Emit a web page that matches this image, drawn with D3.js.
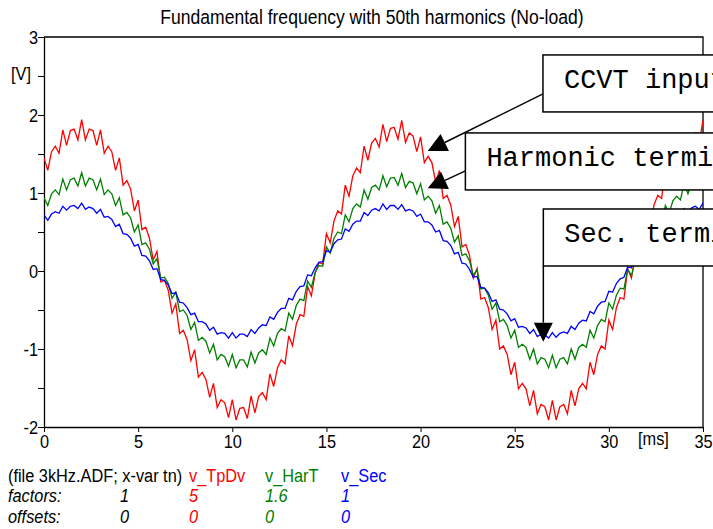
<!DOCTYPE html>
<html><head><meta charset="utf-8">
<script src="https://cdn.jsdelivr.net/npm/d3@7"></script>
<style>html,body{margin:0;padding:0;background:#fff;} svg{display:block}</style>
</head><body>
<svg id="chart" width="713" height="529"></svg>
<script>
const title = "Fundamental frequency with 50th harmonics (No-load)";
const sampleStepMs = 0.2;
const vTpDv = [1.45,1.29,1.53,1.60,1.51,1.81,1.61,1.80,1.82,1.68,
1.94,1.68,1.82,1.80,1.61,1.81,1.51,1.60,1.53,1.29,
1.45,1.10,1.16,1.05,0.77,0.91,0.53,0.56,0.42,0.14,
0.25,-0.14,-0.12,-0.25,-0.54,-0.42,-0.80,-0.76,-0.88,-1.15,
-1.01,-1.36,-1.30,-1.39,-1.62,-1.44,-1.75,-1.65,-1.69,-1.88,
-1.65,-1.91,-1.76,-1.75,-1.89,-1.60,-1.82,-1.61,-1.56,-1.65,
-1.32,-1.48,-1.24,-1.14,-1.19,-0.83,-0.96,-0.68,-0.56,-0.58,
-0.20,-0.32,-0.03,0.11,0.09,0.48,0.36,0.64,0.77,0.73,
1.10,0.96,1.22,1.32,1.26,1.60,1.42,1.64,1.70,1.59,
1.88,1.66,1.83,1.84,1.69,1.93,1.65,1.77,1.73,1.53,
1.72,1.39,1.47,1.39,1.14,1.29,0.93,0.97,0.85,0.57,
0.70,0.31,0.34,0.20,-0.09,0.03,-0.36,-0.34,-0.47,-0.75,
-0.63,-1.00,-0.96,-1.07,-1.33,-1.17,-1.51,-1.44,-1.51,-1.73,
-1.53,-1.83,-1.71,-1.74,-1.91,-1.66,-1.91,-1.74,-1.71,-1.83,
-1.53,-1.73,-1.51,-1.44,-1.51,-1.17,-1.33,-1.07,-0.96,-1.00,
-0.63,-0.75,-0.47,-0.34,-0.36,0.03,-0.09,0.20,0.34,0.31,
0.70,0.57,0.85,0.97,0.93,1.29,1.14,1.39,1.47,1.39,
1.72,1.53,1.73,1.77,1.65,1.93];
const vHarT = [0.94,0.84,0.99,1.04,0.98,1.18,1.04,1.17,1.19,1.09,
1.26,1.09,1.19,1.17,1.04,1.18,0.98,1.04,0.99,0.84,
0.94,0.72,0.75,0.68,0.50,0.59,0.34,0.36,0.28,0.09,
0.16,-0.09,-0.08,-0.16,-0.35,-0.27,-0.52,-0.50,-0.57,-0.75,
-0.66,-0.89,-0.85,-0.90,-1.05,-0.94,-1.14,-1.07,-1.10,-1.22,
-1.07,-1.24,-1.14,-1.14,-1.23,-1.04,-1.18,-1.05,-1.01,-1.07,
-0.86,-0.96,-0.80,-0.74,-0.77,-0.54,-0.62,-0.44,-0.36,-0.38,
-0.13,-0.21,-0.02,0.07,0.06,0.31,0.23,0.42,0.50,0.48,
0.72,0.63,0.80,0.86,0.82,1.04,0.92,1.07,1.10,1.04,
1.22,1.08,1.19,1.20,1.10,1.25,1.07,1.15,1.13,0.99,
1.12,0.91,0.96,0.90,0.74,0.84,0.60,0.63,0.55,0.37,
0.45,0.20,0.22,0.13,-0.06,0.02,-0.23,-0.22,-0.31,-0.49,
-0.41,-0.65,-0.62,-0.70,-0.86,-0.76,-0.98,-0.94,-0.98,-1.13,
-1.00,-1.19,-1.11,-1.13,-1.24,-1.08,-1.24,-1.13,-1.11,-1.19,
-1.00,-1.13,-0.98,-0.94,-0.98,-0.76,-0.86,-0.70,-0.62,-0.65,
-0.41,-0.49,-0.31,-0.22,-0.23,0.02,-0.06,0.13,0.22,0.20,
0.45,0.37,0.55,0.63,0.60,0.84,0.74,0.90,0.96,0.91,
1.12,0.99,1.13,1.15,1.07,1.25];
const vSec = [0.72,0.65,0.73,0.76,0.74,0.83,0.78,0.83,0.84,0.80,
0.87,0.79,0.82,0.80,0.74,0.79,0.69,0.70,0.66,0.57,
0.60,0.48,0.47,0.42,0.32,0.34,0.20,0.19,0.13,0.02,
0.03,-0.11,-0.12,-0.18,-0.29,-0.28,-0.40,-0.41,-0.47,-0.56,
-0.54,-0.65,-0.65,-0.68,-0.76,-0.72,-0.81,-0.79,-0.80,-0.86,
-0.79,-0.86,-0.81,-0.81,-0.84,-0.75,-0.80,-0.73,-0.69,-0.70,
-0.59,-0.62,-0.53,-0.48,-0.48,-0.35,-0.37,-0.26,-0.20,-0.19,
-0.05,-0.06,0.04,0.11,0.12,0.26,0.24,0.35,0.40,0.41,
0.54,0.51,0.60,0.64,0.64,0.75,0.71,0.78,0.80,0.77,
0.86,0.79,0.84,0.84,0.79,0.85,0.77,0.79,0.77,0.70,
0.73,0.63,0.63,0.59,0.50,0.52,0.39,0.38,0.33,0.22,
0.24,0.10,0.09,0.02,-0.08,-0.07,-0.21,-0.22,-0.28,-0.39,
-0.37,-0.49,-0.50,-0.55,-0.64,-0.61,-0.72,-0.71,-0.73,-0.80,
-0.75,-0.84,-0.81,-0.82,-0.86,-0.79,-0.85,-0.80,-0.78,-0.80,
-0.71,-0.75,-0.67,-0.63,-0.64,-0.52,-0.55,-0.45,-0.40,-0.39,
-0.26,-0.27,-0.16,-0.10,-0.08,0.05,0.04,0.15,0.21,0.22,
0.36,0.34,0.44,0.49,0.50,0.62,0.59,0.67,0.71,0.70,
0.80,0.75,0.81,0.83,0.79,0.87];
const xTicks = [0,5,10,15,20,25,30,35];
const yTicks = [-2,-1,0,1,2,3];
const yMinorTicks = [-1.5,-0.5,0.5,1.5,2.5];
const xUnit = "[ms]";
const yUnit = "[V]";
const fileLabel = "(file 3kHz.ADF; x-var tn)";
const seriesNames = ["v_TpDv","v_HarT","v_Sec"];
const seriesColors = ["#ff0000","#008000","#0000ff"];
const factorLabels = ["1","5","1.6","1"];
const offsetLabels = ["0","0","0","0"];
const annotationTexts = ["CCVT input","Harmonic terminal","Sec. terminal"];

(function(){
const svg = d3.select("#chart");
const W = 713, H = 529;
const pL = 44, pR = 703, pT = 37, pB = 427;
const x = d3.scaleLinear().domain([0,35]).range([pL,pR]);
const y = d3.scaleLinear().domain([-2,3]).range([pB,pT]);
const sans = "'Liberation Sans', Arial, sans-serif";
const mono = "'Liberation Mono', 'Courier New', monospace";
const fs = 19, sx = 0.86;

function sText(px, py, str, o={}){
  return svg.append("text")
    .attr("transform",`translate(${px},${py}) scale(${o.sx||sx},1)`)
    .attr("font-family",sans).attr("font-size",o.size||fs)
    .attr("font-style",o.italic?"italic":"normal")
    .attr("text-anchor",o.anchor||"start")
    .attr("fill",o.color||"#000").text(str);
}

svg.append("rect").attr("width",W).attr("height",H).attr("fill","#fff");

sText(372, 24, title, {size:19.5, anchor:"middle", sx:0.9});

svg.append("path").attr("d",`M${pL},${pT}H${pR}V${pB}`).attr("fill","none").attr("stroke","#000").attr("stroke-width",1.3);

const yAxis = d3.axisLeft(y).tickValues(yTicks).tickSize(6).tickSizeOuter(0).tickPadding(1).tickFormat(d=>String(d));
const gy = svg.append("g").attr("transform",`translate(${pL},0)`).call(yAxis);
const gy2 = svg.append("g").attr("transform",`translate(${pL},0)`).call(d3.axisLeft(y).tickValues(yMinorTicks).tickSize(6).tickSizeOuter(0).tickFormat(""));
gy2.select(".domain").remove();
const xAxis = d3.axisBottom(x).tickValues(xTicks).tickSize(5).tickSizeOuter(0).tickPadding(3).tickFormat(d=>String(d));
const gx = svg.append("g").attr("transform",`translate(0,${pB})`).call(xAxis);
[gy,gy2,gx].forEach(g=>{
  g.selectAll("text").attr("font-family",sans).attr("font-size",fs).attr("fill","#000")
    .attr("transform",`scale(${sx},1)`);
  g.selectAll("line").attr("stroke","#000");
  g.select(".domain").attr("stroke","#000").attr("stroke-width",1.3);
});

sText(638, 445, xUnit);
sText(11, 80, yUnit);

const series = [vTpDv, vHarT, vSec];
const line = d3.line().x((d,i)=>x(i*sampleStepMs)).y(d=>y(d));
svg.append("clipPath").attr("id","pc").append("rect").attr("x",pL).attr("y",pT).attr("width",pR-pL).attr("height",pB-pT);
series.forEach((s,i)=>{
  svg.append("path").datum(s).attr("d",line).attr("fill","none")
    .attr("stroke",seriesColors[i]).attr("stroke-width",1.3)
    .attr("clip-path","url(#pc)");
});

const boxes = [
  {t:annotationTexts[0], bx:26.5, by:2.77, sdy:39, tip:[20.38,1.54]},
  {t:annotationTexts[1], bx:22.38, by:1.77, sdy:38, tip:[20.38,1.06]},
  {t:annotationTexts[2], bx:26.52, by:0.795, sdy:57, tip:[26.52,-0.906]}
];
const boxH = 57;
function arrow(ax,ay,tx,ty){
  const dx=tx-ax, dy=ty-ay, len=Math.hypot(dx,dy), ux=dx/len, uy=dy/len;
  const L=19, Wd=9.5;
  const bx=tx-ux*L, by=ty-uy*L;
  svg.append("line").attr("x1",ax).attr("y1",ay).attr("x2",bx).attr("y2",by).attr("stroke","#000").attr("stroke-width",1.5);
  svg.append("path").attr("d",`M${tx},${ty}L${bx-uy*Wd},${by+ux*Wd}L${bx+uy*Wd},${by-ux*Wd}Z`).attr("fill","#000");
}
boxes.forEach(b=>{
  const px=x(b.bx), py=y(b.by);
  svg.append("rect").attr("x",px).attr("y",py).attr("width",400).attr("height",boxH)
    .attr("fill","#fff").attr("stroke","#000").attr("stroke-width",1.5);
  svg.append("text").attr("x",px+21).attr("y",py+33).attr("font-family",mono).attr("font-size",27).attr("fill","#000").text(b.t);
  arrow(px, py+b.sdy, x(b.tip[0]), y(b.tip[1]));
});

const colX = [120,189,265,341];
sText(8, 482, fileLabel);
seriesNames.forEach((n,i)=> sText(colX[i+1], 482, n, {color:seriesColors[i]}));
const rowDefs = [["factors:",factorLabels,502],["offsets:",offsetLabels,523]];
rowDefs.forEach(([lab,vals,yy])=>{
  sText(8, yy, lab, {italic:true});
  vals.forEach((v,i)=> sText(colX[i], yy, v, {italic:true, color: i===0?"#000":seriesColors[i-1]}));
});
})();
</script>
</body></html>
